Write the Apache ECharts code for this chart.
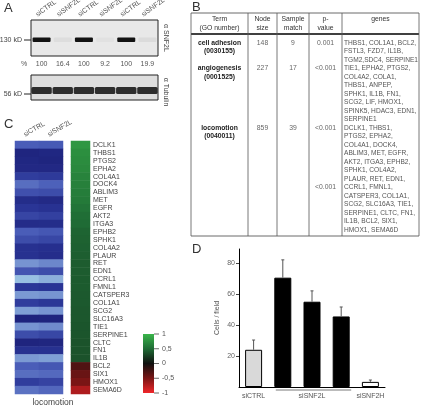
<!DOCTYPE html>
<html><head><meta charset="utf-8">
<script src="https://cdn.jsdelivr.net/npm/echarts@6/dist/echarts.min.js"></script>
<style>html,body{margin:0;padding:0;background:#fff}#c{width:421px;height:408px}</style>
</head><body><div id="c"></div>
<script>
const FONT = '"Liberation Sans", Arial, sans-serif';

// ---------- Panel A (western blot) ----------
const laneLabels = ['siCTRL', 'siSNF2L', 'siCTRL', 'siSNF2L', 'siCTRL', 'siSNF2L'];
const snf2lPercent = [100, 16.4, 100, 9.2, 100, 19.9];
const markerLabels = ['130 kD', '56 kD'];
const antibodyLabels = ['\u03b1 SNF2L', '\u03b1 Tubulin'];

// ---------- Panel B (GO table) ----------
const tableHeader = [['Term', '(GO number)'], ['Node', 'size'], ['Sample', 'match'], ['p-', 'value'], ['genes']];
const goTerms = ['cell adhesion', 'angiogenesis', 'locomotion'];
const goIds = ['(0030155)', '(0001525)', '(0040011)'];
const nodeSize = [148, 227, 859];
const sampleMatch = [9, 17, 39];
const pValues = ['0.001', '<0.001', '<0.001'];
const adhesionGenes = ['THBS1, COL1A1, BCL2,', 'FSTL3, FZD7, IL1B,', 'TGM2,SDC4, SERPINE1'];
const angioGenes = ['TIE1, EPHA2, PTGS2,', 'COL4A2, COLA1,', 'THBS1, ANPEP,', 'SPHK1, IL1B, FN1,', 'SCG2, LIF, HMOX1,', 'SPINK5, HDAC3, EDN1,', 'SERPINE1'];
const locoGenes = ['DCLK1, THBS1,', 'PTGS2, EPHA2,', 'COL4A1, DOCK4,', 'ABLIM3, MET, EGFR,', 'AKT2, ITGA3, EPHB2,', 'SPHK1, COL4A2,', 'PLAUR, RET, EDN1,', 'CCRL1, FMNL1,', 'CATSPER3, COL1A1,', 'SCG2, SLC16A3, TIE1,', 'SERPINE1, CLTC, FN1,', 'IL1B, BCL2, SIX1,', 'HMOX1, SEMA6D'];
const extraPValue = { row: 2, line: 7, text: '<0.001' };

// ---------- Panel C (heatmap) ----------
const heatColumns = ['siCTRL', 'siSNF2L'];
const genes = ['DCLK1', 'THBS1', 'PTGS2', 'EPHA2', 'COL4A1', 'DOCK4', 'ABLIM3', 'MET', 'EGFR', 'AKT2', 'ITGA3', 'EPHB2', 'SPHK1', 'COL4A2', 'PLAUR', 'RET', 'EDN1', 'CCRL1', 'FMNL1', 'CATSPER3', 'COL1A1', 'SCG2', 'SLC16A3', 'TIE1', 'SERPINE1', 'CLTC', 'FN1', 'IL1B', 'BCL2', 'SIX1', 'HMOX1', 'SEMA6D'];
const expCtrl = [0.50, 0.06, 0.08, 0.10, 0.30, 0.58, 0.42, 0.15, 0.25, 0.35, 0.14, 0.50, 0.40, 0.20, 0.20, 0.76, 0.45, 0.92, 0.26, 0.78, 0.30, 0.80, 0.04, 0.76, 0.40, 0.05, 0.20, 0.78, 0.50, 0.58, 0.30, 0.60];
const expSNF2L = [0.48, 0.08, 0.06, 0.10, 0.28, 0.52, 0.40, 0.12, 0.22, 0.32, 0.15, 0.46, 0.36, 0.18, 0.16, 0.70, 0.40, 0.86, 0.24, 0.76, 0.26, 0.76, 0.05, 0.72, 0.36, 0.07, 0.20, 0.80, 0.46, 0.56, 0.34, 0.55];
const foldChange = [0.80, 0.74, 0.72, 0.70, 0.66, 0.64, 0.62, 0.60, 0.56, 0.52, 0.50, 0.46, 0.45, 0.44, 0.43, 0.42, 0.42, 0.41, 0.41, 0.40, 0.40, 0.39, 0.39, 0.38, 0.38, 0.37, 0.37, 0.36, -0.30, -0.42, -0.50, -0.72];
const colorbarTicks = [1, 0.5, 0, -0.5, -1];
const colorbarLabels = ['1', '0,5', '0', '-0,5', '-1'];
const blueScale = ['#1c2078', '#2a3596', '#4a5db8', '#7591d0', '#a9d6ea'];
const foldScale = ['#f0262a', '#7a1515', '#101010', '#1f6b35', '#3ab54a'];

// ---------- Panel D (bar chart) ----------
const barCategories = ['siCTRL', 'siSNF2L #1', 'siSNF2L #2', 'siSNF2L #3', 'siSNF2H'];
const barLabels = ['siCTRL', '', 'siSNF2L', '', 'siSNF2H'];
const cellsPerField = [24, 70.5, 55, 45.5, 3.3];
const cellsErrorTop = [30.3, 82, 62, 51.6, 4.5];
const barFill = ['#d9d9d9', '#000000', '#000000', '#000000', '#ffffff'];
const yTicks = { min: 0, max: 89, interval: 20 };

// ---------- layout ----------
const chart = echarts.init(document.getElementById('c'), null, { renderer: 'canvas' });
const G = [];
function txt(x, y, text, o) {
  o = o || {};
  const el = { type: 'text', x: x, y: y, rotation: o.rot || 0, z: 10,
    style: { text: text, font: (o.weight || 'normal') + ' ' + (o.size || 7) + 'px ' + FONT,
      fill: o.color || '#444', textAlign: o.align || 'left', textVerticalAlign: o.valign || 'middle' } };
  if (o.id) el.id = o.id;
  return el;
}
function addTxt(x, y, text, o) { G.push(txt(x, y, text, o)); }
function line(x1, y1, x2, y2, c, w) {
  G.push({ type: 'line', z: 10, shape: { x1: x1, y1: y1, x2: x2, y2: y2 }, style: { stroke: c || '#000', lineWidth: w || 1 } });
}
function rect(x, y, w, h, fill, stroke) {
  G.push({ type: 'rect', z: 5, shape: { x: x, y: y, width: w, height: h },
    style: { fill: fill, stroke: stroke || null, lineWidth: 1 } });
}

// panel letters
addTxt(4, 8, 'A', { size: 13, color: '#333' });
addTxt(192, 7, 'B', { size: 13, color: '#333' });
addTxt(4, 124, 'C', { size: 13, color: '#333' });
addTxt(192, 249, 'D', { size: 13, color: '#333' });

// Panel A blot
const blot = { x: 31, w: 127, y1: 20, h1: 36, y2: 75, h2: 25 };
const laneW = blot.w / laneLabels.length;
rect(blot.x, blot.y1, blot.w, blot.h1, '#e8e8e8', '#222');
rect(blot.x, blot.y2, blot.w, blot.h2, '#dedede', '#222');
laneLabels.forEach((l, i) => {
  const cx = blot.x + laneW * (i + 0.5);
  addTxt(cx - 3, 18, l, { rot: 36 * Math.PI / 180, align: 'left', valign: 'bottom', size: 7, color: '#555' });
  const a = Math.min(1, snf2lPercent[i] / 100);
  G.push({ type: 'rect', z: 6, shape: { x: cx - 9, y: 37.5, width: 18, height: 4.5, r: 1 },
    style: { fill: 'rgba(10,10,10,' + (0.02 + 0.95 * a * a) + ')' } });
  addTxt(cx, 64, String(snf2lPercent[i]), { align: 'center', size: 7, color: '#555' });
  G.push({ type: 'rect', z: 6, shape: { x: cx - 10.2, y: 87, width: 20.4, height: 7, r: 1.5 },
    style: { fill: 'rgba(20,20,20,0.88)' } });
});
addTxt(21, 64, '%', { align: 'left', size: 7, color: '#555' });
addTxt(22, 40, markerLabels[0], { align: 'right', size: 7, color: '#444' });
line(24, 40, 31, 40, '#222', 1);
addTxt(22, 94, markerLabels[1], { align: 'right', size: 7, color: '#444' });
line(24, 94, 31, 94, '#222', 1);
addTxt(166, 38, antibodyLabels[0], { rot: -Math.PI / 2, align: 'center', size: 7, color: '#444' });
addTxt(166, 92, antibodyLabels[1], { rot: -Math.PI / 2, align: 'center', size: 7, color: '#444' });

// Panel B table
const colX = [191, 248, 277, 309, 342, 419];
const tTop = 13, hdrLine = 34, firstLine = 43, lh = 8.5;
const rowGenes = [adhesionGenes, angioGenes, locoGenes];
let yCur = firstLine;
const rowStarts = [];
rowGenes.forEach(g => { rowStarts.push(yCur); yCur += g.length * lh; });
const tBottom = yCur - lh + 6;
line(colX[0], tTop, colX[5], tTop, '#444', 0.8);
line(colX[0], hdrLine, colX[5], hdrLine, '#000', 1.6);
line(colX[0], tBottom, colX[5], tBottom, '#444', 0.8);
colX.forEach(x => line(x, tTop, x, tBottom, '#555', 0.8));
tableHeader.forEach((h, c) => {
  const cx = (colX[c] + colX[c + 1]) / 2;
  h.forEach((s, k) => addTxt(cx, 19.5 + k * 8.5, s, { align: 'center', size: 6.8, color: '#333' }));
});
rowGenes.forEach((g, r) => {
  const y0 = rowStarts[r];
  const c0 = (colX[0] + colX[1]) / 2;
  addTxt(c0, y0, goTerms[r], { align: 'center', size: 6.8, weight: 'bold', color: '#222' });
  addTxt(c0, y0 + lh, goIds[r], { align: 'center', size: 6.8, weight: 'bold', color: '#222' });
  addTxt((colX[1] + colX[2]) / 2, y0, String(nodeSize[r]), { align: 'center', size: 6.8, color: '#666' });
  addTxt((colX[2] + colX[3]) / 2, y0, String(sampleMatch[r]), { align: 'center', size: 6.8, color: '#666' });
  addTxt((colX[3] + colX[4]) / 2, y0, pValues[r], { align: 'center', size: 6.8, color: '#666' });
  g.forEach((s, k) => addTxt(colX[4] + 2, y0 + k * lh, s, { size: 6.6, color: '#555' }));
});
addTxt((colX[3] + colX[4]) / 2, rowStarts[extraPValue.row] + extraPValue.line * lh, extraPValue.text, { align: 'center', size: 6.8, color: '#666' });

// Panel C colorbar
const cb = { x: 143, y: 334, w: 11, h: 59 };
G.push({ type: 'rect', z: 5, shape: { x: cb.x, y: cb.y, width: cb.w, height: cb.h },
  style: { fill: { type: 'linear', x: 0, y: 0, x2: 0, y2: 1,
    colorStops: foldScale.slice().reverse().map((c, i, arr) => ({ offset: i / (arr.length - 1), color: c })) } } });
colorbarTicks.forEach((v, i) => {
  const y = cb.y + (1 - v) / 2 * cb.h;
  line(cb.x + cb.w, y, cb.x + cb.w + 5, y, '#444', 0.8);
  addTxt(cb.x + cb.w + 8, y, colorbarLabels[i], { size: 7, color: '#555' });
});
addTxt(53, 403, 'locomotion', { align: 'center', size: 8.5, color: '#444' });

const heatData = [];
genes.forEach((g, i) => { heatData.push([0, i, expCtrl[i]]); heatData.push([1, i, expSNF2L[i]]); });
const foldData = genes.map((g, i) => [0, i, foldChange[i]]);

const option = {
  animation: false,
  textStyle: { fontFamily: FONT },
  grid: [
    { left: 15, top: 141, width: 48, height: 253 },
    { left: 71, top: 141, width: 19, height: 253 },
    { left: 239, top: 249, width: 146, height: 138 }
  ],
  xAxis: [
    { gridIndex: 0, type: 'category', data: heatColumns, position: 'top',
      axisLine: { show: false }, axisTick: { show: false }, axisLabel: { show: false } },
    { gridIndex: 1, type: 'category', data: ['ratio'], show: false },
    { gridIndex: 2, type: 'category', data: barCategories,
      axisLine: { lineStyle: { color: '#000', width: 1 } }, axisTick: { show: false },
      axisLabel: { interval: 0, fontSize: 7, color: '#555', margin: 6, formatter: (v, i) => barLabels[i] } }
  ],
  yAxis: [
    { gridIndex: 0, type: 'category', data: genes, inverse: true, show: false },
    { gridIndex: 1, type: 'category', data: genes, inverse: true, position: 'right',
      axisLine: { show: false }, axisTick: { show: false },
      axisLabel: { fontSize: 7, color: '#444', margin: 3, interval: 0 } },
    { gridIndex: 2, type: 'value', min: yTicks.min, max: yTicks.max, interval: yTicks.interval,
      name: 'Cells / field', nameLocation: 'middle', nameGap: 18,
      nameTextStyle: { fontSize: 7, color: '#555' },
      axisLine: { show: true, lineStyle: { color: '#000', width: 1 } },
      axisTick: { show: true, length: 3, lineStyle: { color: '#444' } },
      axisLabel: { fontSize: 7, color: '#666', margin: 4, showMinLabel: false, showMaxLabel: false },
      splitLine: { show: false } }
  ],
  visualMap: [
    { show: false, seriesIndex: 0, min: 0, max: 1, inRange: { color: blueScale } },
    { show: false, seriesIndex: 1, min: -1, max: 1, inRange: { color: foldScale } }
  ],
  series: [
    { type: 'heatmap', xAxisIndex: 0, yAxisIndex: 0, data: heatData },
    { type: 'heatmap', xAxisIndex: 1, yAxisIndex: 1, data: foldData },
    { type: 'bar', xAxisIndex: 2, yAxisIndex: 2, barWidth: 17,
      data: cellsPerField.map((v, i) => ({ value: v, itemStyle: { color: barFill[i] } })),
      itemStyle: { borderColor: '#000', borderWidth: 1 } },
    { type: 'custom', xAxisIndex: 2, yAxisIndex: 2, z: 3,
      data: cellsPerField.map((v, i) => [i, v, cellsErrorTop[i]]),
      renderItem: function (params, api) {
        const p0 = api.coord([api.value(0), api.value(1)]);
        const p1 = api.coord([api.value(0), api.value(2)]);
        return { type: 'group', children: [
          { type: 'line', shape: { x1: p0[0], y1: p0[1], x2: p1[0], y2: p1[1] }, style: { stroke: '#555', lineWidth: 1 } },
          { type: 'line', shape: { x1: p1[0] - 1.5, y1: p1[1], x2: p1[0] + 1.5, y2: p1[1] }, style: { stroke: '#555', lineWidth: 1 } }
        ] };
      } }
  ],
  graphic: { elements: G }
};
chart.setOption(option);

// elements placed from the axes' own scales
const extra = [];
const pa = chart.convertToPixel({ xAxisIndex: 2, yAxisIndex: 2 }, [1, 0]);
const pb = chart.convertToPixel({ xAxisIndex: 2, yAxisIndex: 2 }, [3, 0]);
extra.push({ id: 'grpLine', type: 'line', z: 10, shape: { x1: pa[0] - 7, y1: pa[1] + 3, x2: pb[0] + 10, y2: pb[1] + 3 },
  style: { stroke: '#555', lineWidth: 0.8 } });
heatColumns.forEach((c, i) => {
  const p = chart.convertToPixel({ xAxisIndex: 0, yAxisIndex: 0 }, [i, 0]);
  extra.push(txt(p[0] - 1, 138, c, { id: 'hc' + i, rot: 30 * Math.PI / 180, align: 'left', valign: 'bottom', size: 7, color: '#555' }));
});
chart.setOption({ graphic: { elements: extra } });
</script>
</body></html>
